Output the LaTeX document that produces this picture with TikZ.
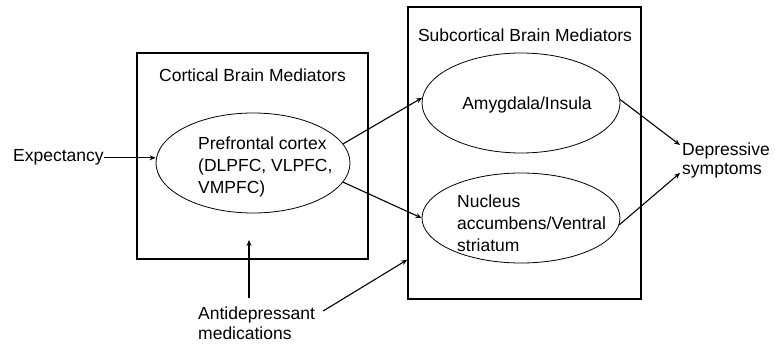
\documentclass[tikz,border=0pt]{standalone}
\usepackage{fontspec}
\setmainfont{Liberation Sans}
\usetikzlibrary{arrows.meta,shapes.geometric}
\begin{document}
\begin{tikzpicture}[x=1pt,y=-1pt,
  box/.style={draw,line width=1.6pt,rectangle,inner sep=0pt},
  oval/.style={draw,line width=0.8pt,ellipse,inner sep=0pt},
  txt/.style={inner sep=0pt,align=left,font=\fontsize{17.5}{22}\selectfont},
  arr/.style={line width=1.1pt,-{Stealth[length=6pt,width=5pt]}}]
\useasboundingbox (0,0) rectangle (775,352);
% boxes
\node[box,minimum width=231pt,minimum height=206pt] (lbox) at (252.5,156) {};
\node[box,minimum width=233pt,minimum height=292pt] (rbox) at (524.5,153) {};
\node[txt,anchor=base] (ltitle) at (252.5,82) {Cortical Brain Mediators};
\node[txt,anchor=base] (rtitle) at (525,42) {Subcortical Brain Mediators};
% ellipses
\node[oval,minimum width=194pt,minimum height=100pt] (pfc) at (253,163) {};
\node[oval,minimum width=198pt,minimum height=100pt] (amy) at (521,103) {};
\node[oval,minimum width=198pt,minimum height=90pt] (nuc) at (521,218) {};
% texts
\node[txt,anchor=north west] (pfct) at (198,137) {Prefrontal cortex\\(DLPFC, VLPFC,\\VMPFC)};
\node[txt,anchor=base] (amyt) at (527,110) {Amygdala/Insula};
\node[txt,anchor=north west] (nuct) at (457,195) {Nucleus\\accumbens/Ventral\\striatum};
\node[txt,anchor=north west,font=\fontsize{17.5}{19}\selectfont] (dep) at (682,143) {Depressive\\symptoms};
\node[txt,anchor=north west,font=\fontsize{17.5}{20}\selectfont] (ad) at (198,307) {Antidepressant\\medications};
\node[txt,anchor=base west] (exp) at (13,162) {Expectancy};
\coordinate (adtip) at (249,240);
% connectors
\draw[arr] (exp.east) -- (pfc.west |- exp.east);
\draw[arr] (pfc.12) -- (amy.177);
\draw[arr] (pfc.-12) -- (nuc.west);
\draw[arr] (amy.2) -- ([xshift=-2pt,yshift=-2pt]dep.north west);
\draw[arr] (nuc.-4) -- ([xshift=-2pt,yshift=-30pt]dep.north west);
\draw[arr] ([xshift=51pt,yshift=9pt]ad.north west) -- (adtip);
\draw[arr] ([xshift=8pt,yshift=-4pt]ad.north east) -- ([yshift=40pt]rbox.south west);
\end{tikzpicture}
\end{document}
